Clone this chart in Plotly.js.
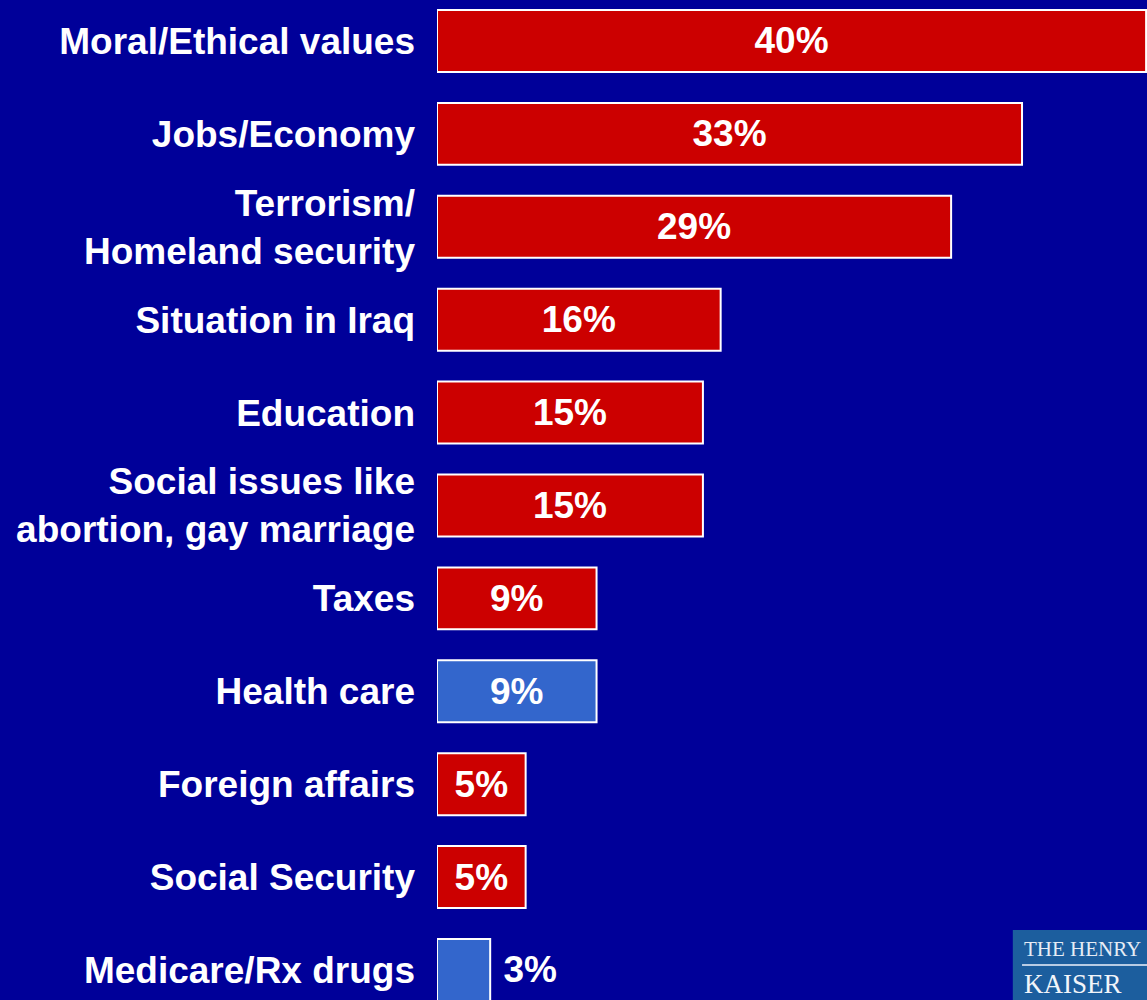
<!DOCTYPE html>
<html>
<head>
<meta charset="utf-8">
<script src="https://cdn.plot.ly/plotly-3.0.1.min.js"></script>
<style>html,body{margin:0;padding:0;background:#000099;}#chart{width:1147px;height:1000px;}</style>
</head>
<body>
<div id="chart"></div>
<script>
const categories = [
  "Moral/Ethical values",
  "Jobs/Economy",
  "Terrorism/<br>Homeland security",
  "Situation in Iraq",
  "Education",
  "Social issues like<br>abortion, gay marriage",
  "Taxes",
  "Health care",
  "Foreign affairs",
  "Social Security",
  "Medicare/Rx drugs"
];
const values = [40, 33, 29, 16, 15, 15, 9, 9, 5, 5, 3];
const healthRelated = [false, false, false, false, false, false, false, true, false, false, true];

const RED = "#CC0000", BLUE = "#3366CC";
const colors = healthRelated.map(h => h ? BLUE : RED);
const positions = values.map(v => v < 4 ? "outside" : "inside");
const labels = values.map((v, i) => (positions[i] === "outside" ? "\u00a0" : "") + v + "%");

const font = "Liberation Sans, Arial, sans-serif";

const trace = {
  type: "bar",
  orientation: "h",
  y: categories,
  x: values,
  text: labels,
  textposition: positions,
  insidetextanchor: "middle",
  textfont: {family: font, size: 37, color: "#ffffff", weight: "bold"},
  outsidetextfont: {family: font, size: 37, color: "#ffffff", weight: "bold"},
  marker: {color: colors, line: {color: "#ffffff", width: 2}},
  cliponaxis: false,
  hoverinfo: "none"
};

const layout = {
  width: 1147,
  height: 1000,
  margin: {l: 437, r: 0, t: 0, b: 0, pad: 0},
  paper_bgcolor: "#000099",
  plot_bgcolor: "#000099",
  showlegend: false,
  bargap: 0.333,
  xaxis: {range: [0, 40.05], visible: false, fixedrange: true},
  yaxis: {
    type: "category",
    categoryarray: categories,
    range: [10.323, -0.441],
    autorange: false,
    showgrid: false,
    zeroline: false,
    showline: false,
    ticks: "",
    ticklabelstandoff: 21,
    tickfont: {family: font, size: 37, color: "#ffffff", weight: "bold"}
  },
  shapes: [
    {type: "rect", xref: "paper", yref: "paper", x0: 0.811, x1: 1.0, y0: 0, y1: 0.07,
     fillcolor: "#1c5e9e", line: {width: 0}},
    {type: "line", xref: "paper", yref: "paper", x0: 0.824, x1: 1.0, y0: 0.035, y1: 0.035,
     line: {color: "#b8cce4", width: 2}}
  ],
  annotations: [
    {xref: "paper", yref: "paper", x: 0.824, y: 0.051, xanchor: "left", yanchor: "middle",
     text: "THE HENRY", showarrow: false,
     font: {family: "Liberation Serif, DejaVu Serif, serif", size: 21, color: "#e6ecf5"}},
    {xref: "paper", yref: "paper", x: 0.824, y: 0.016, xanchor: "left", yanchor: "middle",
     text: "KAISER", showarrow: false,
     font: {family: "Liberation Serif, DejaVu Serif, serif", size: 27, color: "#f2f5fa"}}
  ]
};

Plotly.newPlot("chart", [trace], layout, {displayModeBar: false, staticPlot: true});
</script>
</body>
</html>
